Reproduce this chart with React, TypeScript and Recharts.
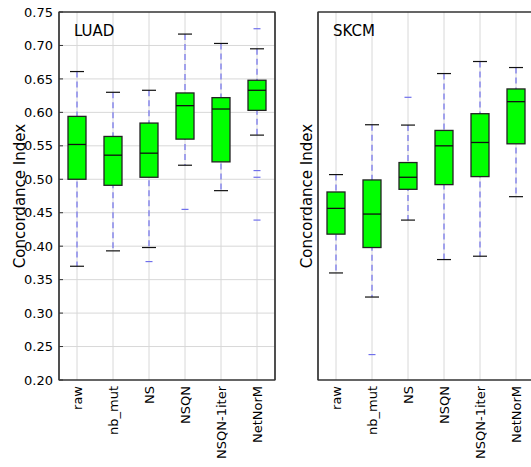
import React from 'react';
import { ComposedChart, Bar, XAxis, YAxis, CartesianGrid, ReferenceDot, ReferenceArea } from 'recharts';

const CATEGORIES = ['raw', 'nb_mut', 'NS', 'NSQN', 'NSQN-1iter', 'NetNorM'];
const Y_TICKS = [0.2, 0.25, 0.3, 0.35, 0.4, 0.45, 0.5, 0.55, 0.6, 0.65, 0.7, 0.75];
const Y_MIN = 0.2;
const Y_MAX = 0.75;

const LUAD_LOW = [0.37, 0.393, 0.398, 0.521, 0.483, 0.566];
const LUAD_Q1 = [0.5, 0.491, 0.503, 0.56, 0.526, 0.603];
const LUAD_MEDIAN = [0.552, 0.536, 0.539, 0.61, 0.605, 0.633];
const LUAD_Q3 = [0.594, 0.564, 0.584, 0.629, 0.622, 0.648];
const LUAD_HIGH = [0.661, 0.63, 0.633, 0.717, 0.703, 0.695];
const LUAD_FLIER_CATS = ['NS', 'NSQN', 'NetNorM', 'NetNorM', 'NetNorM', 'NetNorM'];
const LUAD_FLIER_VALUES = [0.377, 0.455, 0.725, 0.513, 0.503, 0.439];

const SKCM_LOW = [0.36, 0.324, 0.439, 0.38, 0.385, 0.474];
const SKCM_Q1 = [0.418, 0.398, 0.485, 0.492, 0.504, 0.553];
const SKCM_MEDIAN = [0.4565, 0.448, 0.503, 0.55, 0.555, 0.616];
const SKCM_Q3 = [0.481, 0.499, 0.525, 0.573, 0.598, 0.635];
const SKCM_HIGH = [0.507, 0.5815, 0.581, 0.658, 0.676, 0.667];
const SKCM_FLIER_CATS = ['nb_mut', 'NS'];
const SKCM_FLIER_VALUES = [0.238, 0.6225];

const FONT = '"DejaVu Sans", sans-serif';
const WHISKER = '#7070ec';
const BOX_FILL = '#00ff00';
const SPINE = '#333';

function buildRows(low: number[], q1: number[], med: number[], q3: number[], high: number[]) {
  return CATEGORIES.map((cat, i) => ({
    cat,
    whisker: [low[i], high[i]],
    box: [q1[i], q3[i]],
    median: [q1[i], med[i]],
  }));
}

const WhiskerShape = (props: any) => {
  const { x, y, width, height } = props;
  const top = Math.min(y, y + height);
  const bottom = Math.max(y, y + height);
  const cx = x + width / 2;
  return (
    <g>
      <line x1={cx} x2={cx} y1={top} y2={bottom} stroke={WHISKER} strokeWidth={1.2} strokeDasharray="6 4" />
      <line x1={x} x2={x + width} y1={top} y2={top} stroke="#111" strokeWidth={1.2} />
      <line x1={x} x2={x + width} y1={bottom} y2={bottom} stroke="#111" strokeWidth={1.2} />
    </g>
  );
};

const BoxShape = (props: any) => {
  const { x, y, width, height } = props;
  const top = Math.min(y, y + height);
  return <rect x={x} y={top} width={width} height={Math.abs(height)} fill={BOX_FILL} stroke="#222" strokeWidth={1.3} />;
};

const MedianShape = (props: any) => {
  const { x, y, width, height } = props;
  const top = Math.min(y, y + height);
  return <line x1={x} x2={x + width} y1={top} y2={top} stroke="#111" strokeWidth={1.3} />;
};

const FlierShape = (props: any) => {
  const { cx, cy } = props;
  return <line x1={cx - 3.5} x2={cx + 3.5} y1={cy} y2={cy} stroke={WHISKER} strokeWidth={1.2} />;
};

const XTick = (props: any) => {
  const { x, y, payload } = props;
  return (
    <text x={x} y={y} transform={`rotate(-90 ${x} ${y})`} textAnchor="end" dy="0.35em" fontSize={13} fontFamily={FONT} fill="#000">
      {payload.value}
    </text>
  );
};

type PanelProps = {
  rows: any[];
  flierCats: string[];
  flierValues: number[];
  showYTickLabels: boolean;
  yAxisWidth: number;
  left: number;
};

function Panel({ rows, flierCats, flierValues, showYTickLabels, yAxisWidth, left }: PanelProps) {
  const chartWidth = yAxisWidth + 216 + 5;
  return (
    <div style={{ position: 'absolute', left, top: 0 }}>
      <ComposedChart width={chartWidth} height={467} data={rows} margin={{ top: 11, right: 4, bottom: 0, left: 0 }}>
        <CartesianGrid
          xAxisId="w"
          yAxisId="l"
          stroke="#d8d8d8"
          strokeWidth={1}
          horizontalValues={Y_TICKS.slice(1, -1)}
        />
        <XAxis
          xAxisId="w"
          dataKey="cat"
          height={87}
          interval={0}
          tickSize={0}
          tickMargin={6}
          axisLine={{ stroke: SPINE, strokeWidth: 1.2 }}
          tickLine={false}
          tick={<XTick />}
        />
        <XAxis
          xAxisId="b"
          dataKey="cat"
          orientation="top"
          height={1}
          tick={false}
          tickLine={false}
          axisLine={{ stroke: SPINE, strokeWidth: 1.2 }}
        />
        <XAxis xAxisId="m" dataKey="cat" orientation="top" height={0} hide />
        <YAxis
          yAxisId="l"
          type="number"
          width={yAxisWidth}
          domain={[Y_MIN, Y_MAX]}
          allowDataOverflow
          ticks={Y_TICKS}
          interval={0}
          tickSize={-4}
          tickMargin={10}
          tick={showYTickLabels ? { fontSize: 13, fill: '#000', fontFamily: FONT } : false}
          tickFormatter={(v: number) => v.toFixed(2)}
          axisLine={{ stroke: SPINE, strokeWidth: 1.2 }}
          tickLine={{ stroke: SPINE }}
        />
        <YAxis
          yAxisId="r"
          type="number"
          orientation="right"
          width={1}
          domain={[Y_MIN, Y_MAX]}
          allowDataOverflow
          ticks={Y_TICKS}
          interval={0}
          tickSize={-4}
          tick={false}
          axisLine={{ stroke: SPINE, strokeWidth: 1.2 }}
          tickLine={{ stroke: SPINE }}
        />
        <Bar xAxisId="w" yAxisId="l" dataKey="whisker" barSize={14} shape={WhiskerShape} isAnimationActive={false} />
        <Bar xAxisId="b" yAxisId="l" dataKey="box" barSize={18} shape={BoxShape} isAnimationActive={false} />
        <Bar xAxisId="m" yAxisId="r" dataKey="median" barSize={18} shape={MedianShape} isAnimationActive={false} />
        {flierCats.map((c, i) => (
          <ReferenceDot key={i} xAxisId="w" yAxisId="l" x={c} y={flierValues[i]} shape={FlierShape} />
        ))}
        <ReferenceArea
          xAxisId="w"
          yAxisId="l"
          y1={Y_MIN}
          y2={Y_MAX}
          fill="none"
          fillOpacity={0}
          stroke={SPINE}
          strokeWidth={1.2}
          ifOverflow="visible"
        />
      </ComposedChart>
    </div>
  );
}

const LUAD_ROWS = buildRows(LUAD_LOW, LUAD_Q1, LUAD_MEDIAN, LUAD_Q3, LUAD_HIGH);
const SKCM_ROWS = buildRows(SKCM_LOW, SKCM_Q1, SKCM_MEDIAN, SKCM_Q3, SKCM_HIGH);

export default function App() {
  return (
    <div style={{ position: 'absolute', left: 0, top: 0, width: 531, height: 467, overflow: 'hidden', background: '#fff' }}>
      <Panel rows={LUAD_ROWS} flierCats={LUAD_FLIER_CATS} flierValues={LUAD_FLIER_VALUES} showYTickLabels yAxisWidth={59} left={0} />
      <Panel rows={SKCM_ROWS} flierCats={SKCM_FLIER_CATS} flierValues={SKCM_FLIER_VALUES} showYTickLabels={false} yAxisWidth={38} left={280} />
      <svg width={531} height={467} style={{ position: 'absolute', left: 0, top: 0, pointerEvents: 'none' }}>
        <text x={74} y={36} fontSize={15} fontFamily={FONT} fill="#000">LUAD</text>
        <text x={333} y={36} fontSize={15} fontFamily={FONT} fill="#000">SKCM</text>
        <text transform="translate(25 196) rotate(-90)" textAnchor="middle" fontSize={15} fontFamily={FONT} fill="#000">Concordance Index</text>
        <text transform="translate(312 196) rotate(-90)" textAnchor="middle" fontSize={15} fontFamily={FONT} fill="#000">Concordance Index</text>
      </svg>
    </div>
  );
}
